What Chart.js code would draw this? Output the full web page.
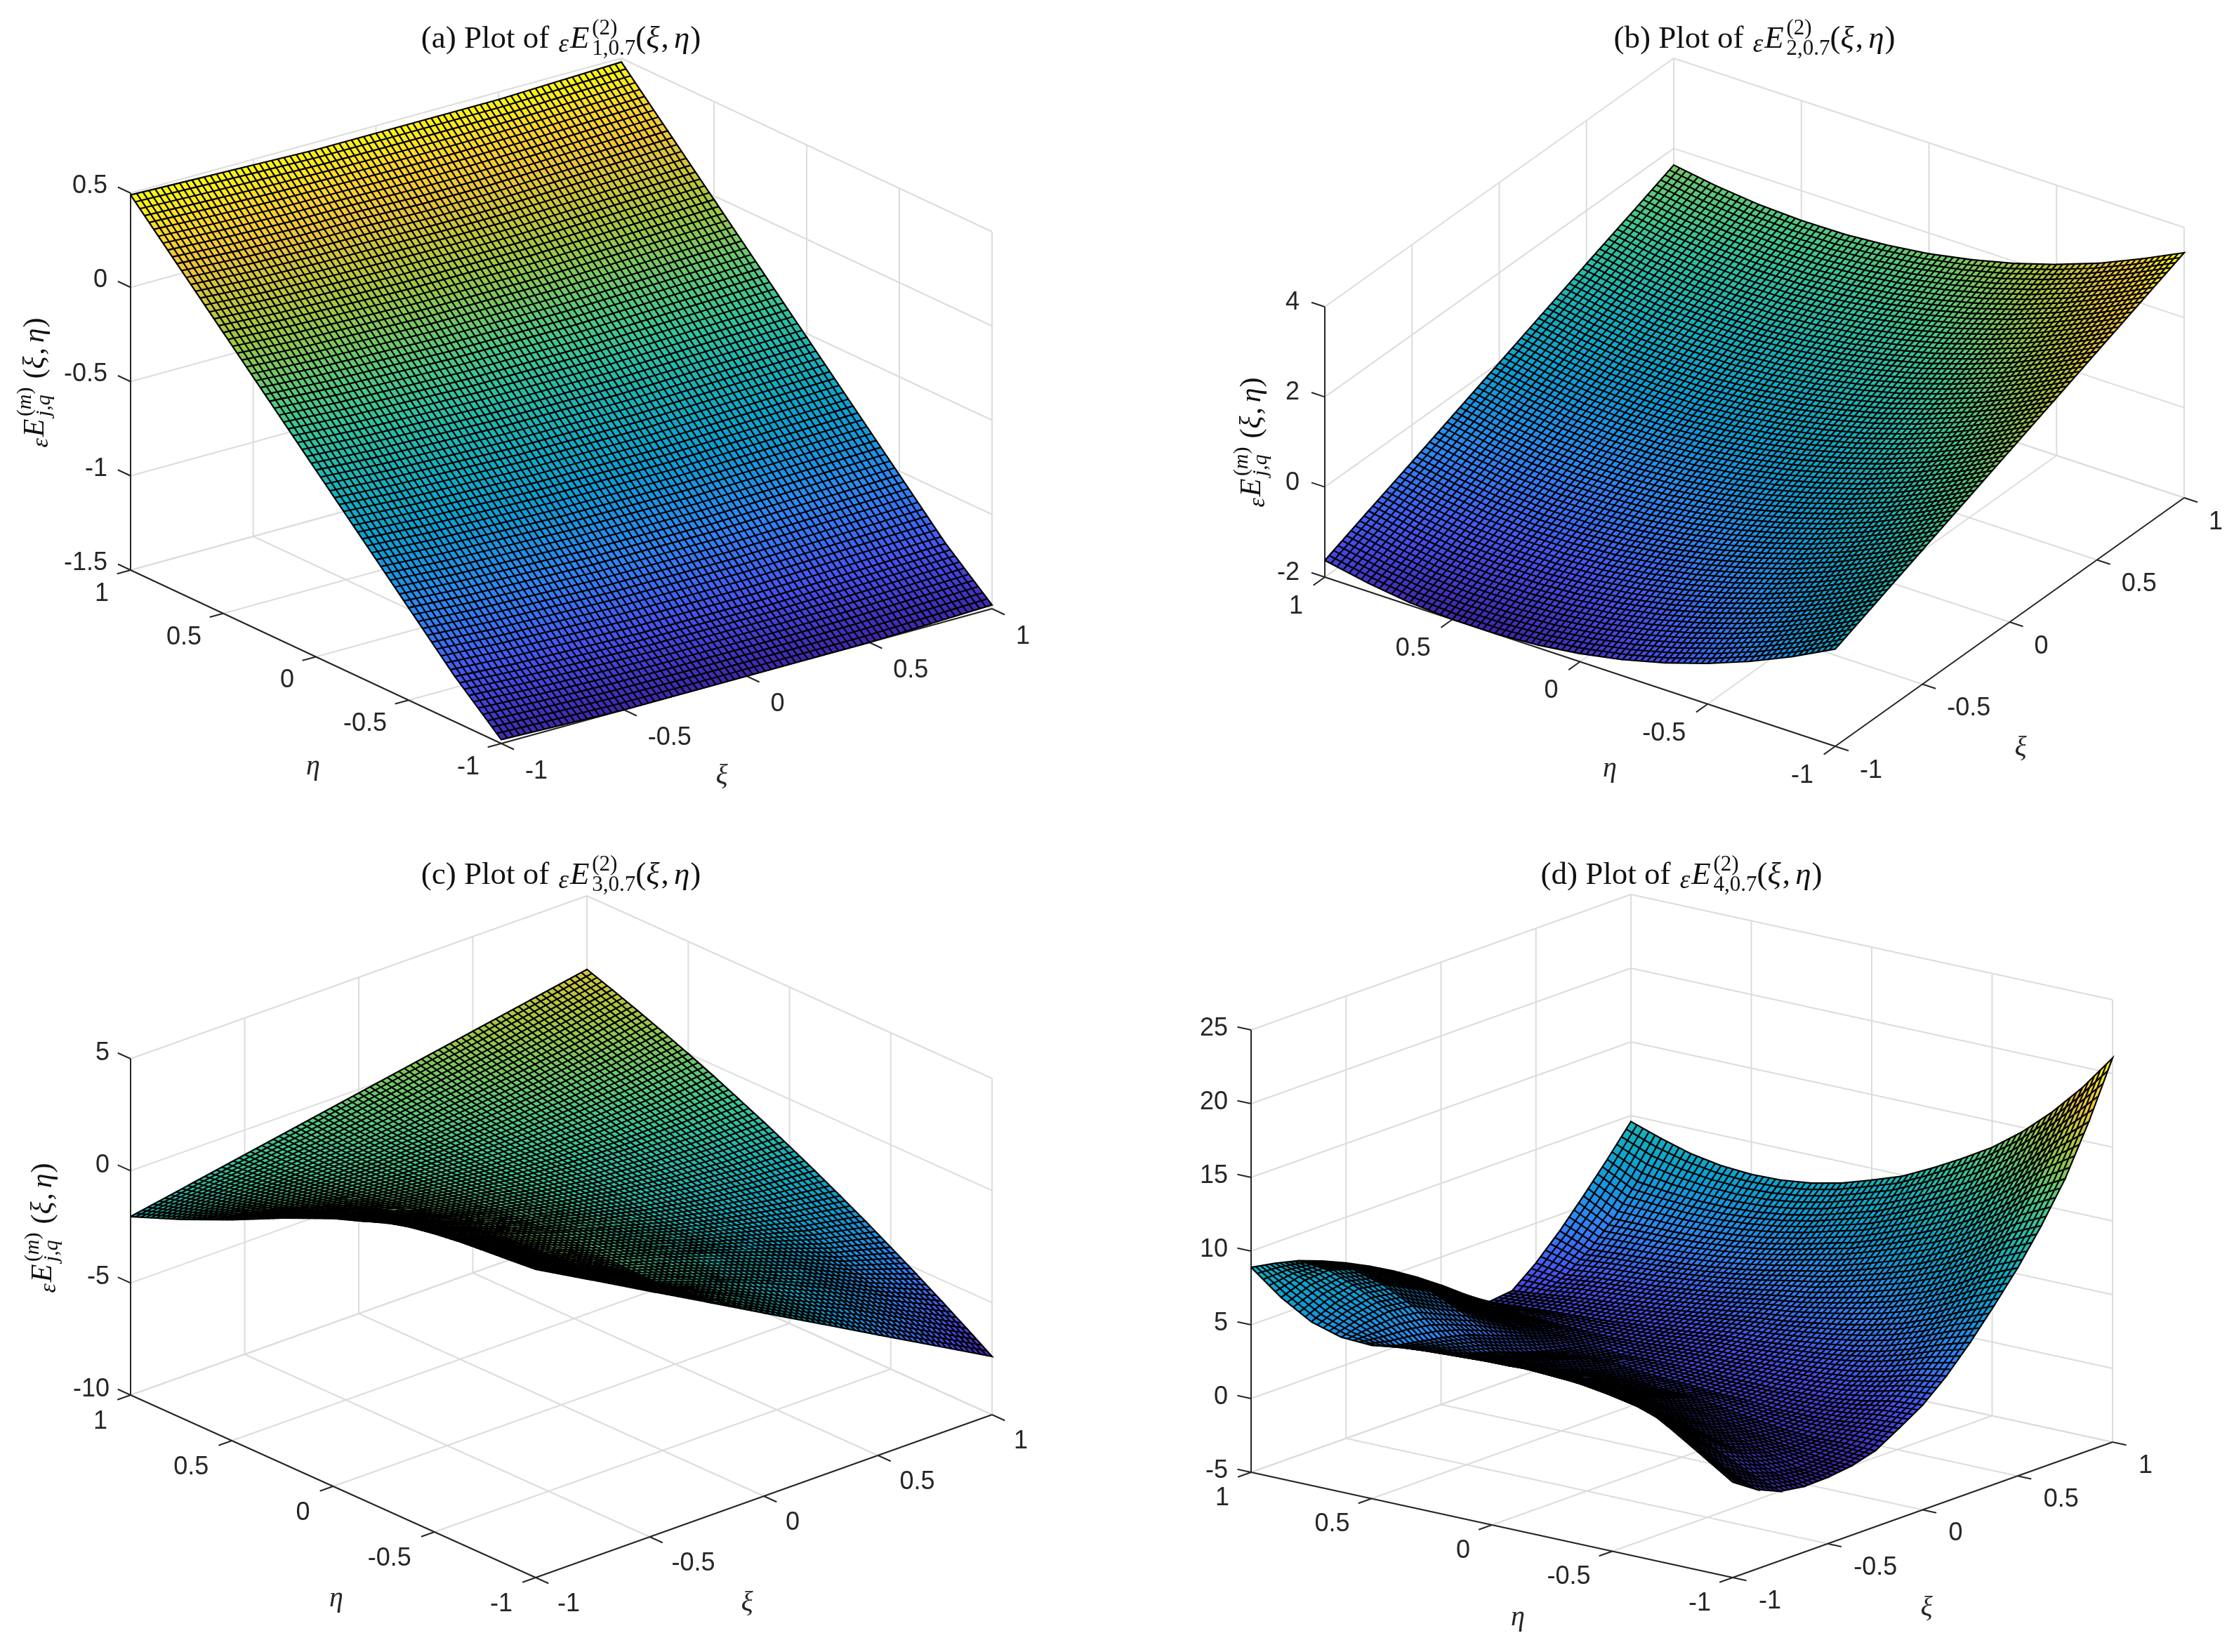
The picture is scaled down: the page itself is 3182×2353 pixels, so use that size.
<!DOCTYPE html>
<html>
<head>
<meta charset="utf-8">
<title>Surface plots</title>
<script src="https://cdn.jsdelivr.net/npm/chart.js@4"></script>
<style>
  html, body { margin: 0; padding: 0; background: #fff; }
  body { position: relative; width: 3182px; height: 2353px; overflow: hidden; }
  canvas { position: absolute; display: block; }
</style>
</head>
<body>
<script>
// Tick values, same on the two ground axes of every panel
const xiTicks = [-1, -0.5, 0, 0.5, 1];
const etaTicks = [-1, -0.5, 0, 0.5, 1];
const zTicksA = [-1.5, -1, -0.5, 0, 0.5];
const zTicksB = [-2, 0, 2, 4];
const zTicksC = [-10, -5, 0, 5];
const zTicksD = [-5, 0, 5, 10, 15, 20, 25];

// Surface heights. Rows run eta = 1 .. -1, columns xi = -1 .. 1
const valuesA = [
  [0.49, 0.48, 0.47, 0.46, 0.46, 0.46, 0.46, 0.47, 0.48],
  [0.24, 0.22, 0.21, 0.21, 0.20, 0.20, 0.21, 0.22, 0.23],
  [-0.01, -0.03, -0.04, -0.05, -0.05, -0.05, -0.04, -0.03, -0.02],
  [-0.26, -0.28, -0.29, -0.30, -0.30, -0.30, -0.29, -0.28, -0.27],
  [-0.51, -0.53, -0.54, -0.55, -0.55, -0.55, -0.54, -0.53, -0.52],
  [-0.76, -0.78, -0.79, -0.80, -0.80, -0.80, -0.79, -0.78, -0.77],
  [-1.01, -1.03, -1.04, -1.05, -1.05, -1.05, -1.04, -1.03, -1.02],
  [-1.26, -1.28, -1.29, -1.30, -1.30, -1.30, -1.29, -1.28, -1.27],
  [-1.48, -1.49, -1.50, -1.50, -1.50, -1.50, -1.50, -1.49, -1.48]
];
const valuesB = [
  [-1.63, -1.22, -0.82, -0.41, 0, 0.41, 0.82, 1.22, 1.63],
  [-1.81, -1.40, -0.99, -0.58, -0.17, 0.25, 0.66, 1.07, 1.48],
  [-1.94, -1.53, -1.11, -0.70, -0.28, 0.13, 0.55, 0.97, 1.38],
  [-2.00, -1.58, -1.17, -0.75, -0.33, 0.09, 0.51, 0.92, 1.34],
  [-2.00, -1.58, -1.16, -0.74, -0.33, 0.09, 0.51, 0.93, 1.35],
  [-1.94, -1.52, -1.10, -0.68, -0.26, 0.16, 0.58, 1.00, 1.42],
  [-1.82, -1.40, -0.98, -0.56, -0.14, 0.28, 0.70, 1.12, 1.54],
  [-1.64, -1.22, -0.80, -0.38, 0.04, 0.46, 0.88, 1.30, 1.72],
  [-1.40, -0.98, -0.56, -0.14, 0.28, 0.69, 1.11, 1.53, 1.95],
  [-1.10, -0.68, -0.27, 0.15, 0.57, 0.99, 1.41, 1.82, 2.24],
  [-0.74, -0.33, 0.09, 0.50, 0.92, 1.34, 1.75, 2.17, 2.58],
  [-0.32, 0.09, 0.51, 0.92, 1.34, 1.75, 2.17, 2.58, 2.99],
  [0.16, 0.57, 0.98, 1.39, 1.80, 2.21, 2.62, 3.03, 3.44]
];
const valuesC = [
  [-2.04, -1.57, -1.10, -0.63, -0.16, 0.31, 0.78, 1.25, 1.72],
  [-1.60, -1.34, -1.05, -0.73, -0.37, 0.01, 0.41, 0.86, 1.32],
  [-1.15, -1.08, -0.97, -0.79, -0.57, -0.28, 0.06, 0.45, 0.90],
  [-0.65, -0.78, -0.83, -0.80, -0.71, -0.53, -0.28, 0.05, 0.46],
  [-0.15, -0.46, -0.67, -0.79, -0.83, -0.76, -0.60, -0.35, 0],
  [0.40, -0.09, -0.46, -0.74, -0.91, -0.97, -0.91, -0.76, -0.49],
  [0.95, 0.30, -0.24, -0.66, -0.97, -1.15, -1.22, -1.17, -1.01],
  [1.45, 0.65, -0.04, -0.59, -1.03, -1.34, -1.53, -1.60, -1.54],
  [1.95, 1.00, 0.19, -0.51, -1.08, -1.52, -1.84, -2.03, -2.10],
  [2.35, 1.29, 0.35, -0.46, -1.10, -1.72, -2.17, -2.48, -2.68],
  [2.80, 1.50, 0.45, -0.40, -1.15, -1.89, -2.47, -2.94, -3.29],
  [3.10, 1.65, 0.50, -0.45, -1.20, -2.00, -2.72, -3.42, -3.91],
  [3.30, 1.80, 0.55, -0.50, -1.25, -2.08, -2.95, -3.90, -4.57],
  [3.45, 1.95, 0.62, -0.55, -1.35, -2.25, -3.20, -4.35, -5.24],
  [3.55, 2.14, 0.80, -0.55, -1.45, -2.45, -3.55, -4.80, -5.94],
  [3.65, 2.27, 0.92, -0.45, -1.60, -2.85, -4.00, -5.35, -6.66],
  [3.75, 2.36, 0.96, -0.43, -1.83, -3.22, -4.62, -6.01, -7.40]
];
const valuesD = [
  [8.9, 8.6, 8.2, 7.6, 6.9, 6.1, 5.2, 4.2, 3.1, 1.9, 0.8, 1.0, 2.3, 3.9, 5.7, 7.6, 9.6],
  [7.3, 7.9, 8.0, 7.5, 6.7, 5.8, 4.7, 3.5, 2.4, 1.5, 0.95, 1.2, 1.95, 3.1, 4.6, 6.55, 8.9],
  [6.1, 6.8, 7.2, 6.9, 6.1, 5.3, 4.2, 3.0, 2.1, 1.4, 1.08, 1.47, 2.19, 3.23, 4.6, 6.29, 8.3],
  [5.5, 5.9, 6.1, 5.9, 5.1, 4.4, 3.4, 2.5, 1.8, 1.3, 1.18, 1.63, 2.35, 3.34, 4.6, 6.14, 7.95],
  [5.4, 4.8, 4.5, 4.2, 3.8, 3.2, 2.6, 2.0, 1.5, 1.2, 1.3, 1.8, 2.52, 3.49, 4.69, 6.13, 7.8],
  [5.7, 4.9, 4.2, 3.6, 3.1, 2.5, 2.0, 1.6, 1.3, 1.16, 1.48, 2.0, 2.75, 3.7, 4.88, 6.26, 7.85],
  [5.9, 5.0, 4.2, 3.5, 2.9, 2.4, 1.9, 1.4, 1.07, 1.25, 1.64, 2.23, 3.0, 3.98, 5.16, 6.53, 8.1],
  [6.05, 5.1, 4.2, 3.4, 2.7, 2.1, 1.6, 1.2, 1.13, 1.39, 1.84, 2.48, 3.32, 4.34, 5.55, 6.95, 8.55],
  [6.1, 5.2, 4.3, 3.4, 2.6, 1.9, 1.4, 1.05, 1.16, 1.51, 2.04, 2.76, 3.67, 4.77, 6.06, 7.54, 9.2],
  [6.15, 5.1, 4.1, 3.2, 2.4, 1.7, 1.2, 0.95, 1.1, 1.53, 2.15, 2.97, 3.97, 5.17, 6.55, 8.13, 9.9],
  [6.1, 5.0, 3.9, 3.0, 2.2, 1.6, 1.1, 0.8, 1.08, 1.61, 2.34, 3.27, 4.4, 5.73, 7.25, 8.98, 10.9],
  [6.0, 4.7, 3.5, 2.5, 1.8, 1.2, 0.8, 0.75, 1.06, 1.7, 2.55, 3.61, 4.88, 6.35, 8.03, 9.91, 12.0],
  [5.9, 4.3, 3.0, 2.0, 1.3, 0.8, 0.5, 0.6, 1.11, 1.87, 2.84, 4.03, 5.44, 7.06, 8.89, 10.94, 13.2],
  [5.3, 3.6, 2.4, 1.4, 0.8, 0.4, 0.25, 0.6, 1.22, 2.12, 3.25, 4.59, 6.16, 7.96, 9.98, 12.2, 14.7],
  [4.1, 2.6, 1.5, 0.8, 0.3, 0.05, 0.14, 0.71, 1.51, 2.56, 3.85, 5.36, 7.12, 9.1, 11.34, 13.8, 16.5],
  [2.8, 1.4, 0.5, -0.05, -0.3, -0.2, 0.2, 0.96, 1.92, 3.13, 4.6, 6.3, 8.26, 10.47, 12.94, 15.64, 18.6],
  [1.47, 0.4, -0.3, -0.55, -0.5, -0.3, 0.15, 1.1, 2.1, 3.5, 5.2, 7.1, 9.1, 11.4, 14.0, 17.3, 21.05]
];

// Page layout of the panels: origin is the corner (xi=-1, eta=-1, zmin), the edge
// vectors span the whole box, so every panel is a plain orthographic projection.
const panels = [
  {
    letter: 'a', index: '1', values: valuesA, zTicks: zTicksA,
    rect: { x: 0, y: 0, w: 1591, h: 1176 },
    origin: [714, 1059], xiEdge: [699, -192], etaEdge: [-528, -247], zEdge: -537,
    zOff: [-33, -10], etaOff: [-31, 34], xiOff: [34, 40],
    title: [799, 68], etaName: [446, 1092], xiName: [1028, 1105], yName: [62, 545]
  },
  {
    letter: 'b', index: '2', values: valuesB, zTicks: zTicksB,
    rect: { x: 1591, y: 0, w: 1591, h: 1176 },
    origin: [2614, 1063], xiEdge: [497, -354], etaEdge: [-727, -241], zEdge: -385,
    zOff: [-36, -6], etaOff: [-31, 42], xiOff: [35, 35],
    title: [2499, 68], etaName: [2293, 1095], xiName: [2878, 1065], yName: [1795, 630]
  },
  {
    letter: 'c', index: '3', values: valuesC, zTicks: zTicksC,
    rect: { x: 0, y: 1176, w: 1591, h: 1177 },
    origin: [763, 2247], xiEdge: [650, -232], etaEdge: [-577, -260], zEdge: -479,
    zOff: [-30, -8], etaOff: [-33, 38], xiOff: [31, 38],
    title: [799, 1259], etaName: [479, 2277], xiName: [1064, 2283], yName: [73, 1749]
  },
  {
    letter: 'd', index: '4', values: valuesD, zTicks: zTicksD,
    rect: { x: 1591, y: 1176, w: 1591, h: 1177 },
    origin: [2468, 2247], xiEdge: [541, -193], etaEdge: [-686, -150], zEdge: -630,
    zOff: [-33, -2], etaOff: [-31, 37], xiOff: [37, 34],
    title: [2395, 1259], etaName: [2162, 2304], xiName: [2744, 2290], yName: [88, 1785]
  }
];

const parulaStops = [
  [0, 0.2422, 0.1504, 0.6603], [0.11, 0.2810, 0.3228, 0.9579], [0.23, 0.1786, 0.5289, 0.9682],
  [0.35, 0.0383, 0.6200, 0.8400], [0.45, 0.0689, 0.6948, 0.7394], [0.57, 0.2161, 0.7843, 0.5923],
  [0.75, 0.6720, 0.7793, 0.2227], [0.89, 0.9990, 0.7653, 0.2164], [1, 0.9763, 0.9831, 0.0538]
];
const MESH_LINES = 80;
const MESH_WIDTH = 2.2;
const GRID_COLOR = '#dcdcdc';
const AXIS_COLOR = '#262626';
const SERIF = '"Liberation Serif"';
const SANS = '"Liberation Sans"';

const parula = (t) => {
  const v = Math.min(1, Math.max(0, t));
  let k = 0;
  while (k < parulaStops.length - 2 && v > parulaStops[k + 1][0]) k++;
  const a = parulaStops[k], b = parulaStops[k + 1];
  const m = (v - a[0]) / (b[0] - a[0]);
  const ch = (n) => Math.round(255 * (a[n] + (b[n] - a[n]) * m));
  return `rgb(${ch(1)},${ch(2)},${ch(3)})`;
};

// Scale coordinates of a point of the 3D box
const project = (panel, xi, eta, z) => {
  const ticks = panel.zTicks;
  const zMin = ticks[0], zMax = ticks[ticks.length - 1];
  const f = (xi + 1) / 2, g = (eta + 1) / 2, h = (z - zMin) / (zMax - zMin);
  return {
    x: panel.origin[0] + f * panel.xiEdge[0] + g * panel.etaEdge[0],
    y: panel.origin[1] + f * panel.xiEdge[1] + g * panel.etaEdge[1] + h * panel.zEdge
  };
};

const gridPoint = (panel, r, c) => {
  const rows = panel.values.length, cols = panel.values[0].length;
  return project(panel, -1 + 2 * c / (cols - 1), 1 - 2 * r / (rows - 1), panel.values[r][c]);
};

// Colour of one face: a linear gradient along the steepest direction of its height
const cellFill = (chart, panel, r, c) => {
  const v = panel.values;
  const { x: sx, y: sy } = chart.scales;
  const px = (p) => ({ x: sx.getPixelForValue(p.x), y: sy.getPixelForValue(p.y) });
  const a = px(gridPoint(panel, r, c)), b = px(gridPoint(panel, r, c + 1));
  const d = px(gridPoint(panel, r + 1, c)), e = px(gridPoint(panel, r + 1, c + 1));
  const za = v[r][c], zb = v[r][c + 1], zd = v[r + 1][c], ze = v[r + 1][c + 1];
  const flat = v.flat();
  const lo = Math.min(...flat), hi = Math.max(...flat);
  const tone = (z) => parula((z - lo) / (hi - lo));
  const zc = (za + zb + zd + ze) / 4;
  const ux = (b.x - a.x + e.x - d.x) / 2, uy = (b.y - a.y + e.y - d.y) / 2;
  const wx = (d.x - a.x + e.x - b.x) / 2, wy = (d.y - a.y + e.y - b.y) / 2;
  const dzu = (zb - za + ze - zd) / 2, dzw = (zd - za + ze - zb) / 2;
  const det = ux * wy - uy * wx;
  // the scales have no size yet on the first pass of the options
  if (!Number.isFinite(det) || Math.abs(det) < 1) return tone(zc);
  const gx = (dzu * wy - dzw * uy) / det, gy = (ux * dzw - wx * dzu) / det;
  const n2 = gx * gx + gy * gy;
  if (n2 < 1e-12) return tone(zc);
  const s = (Math.max(za, zb, zd, ze) - Math.min(za, zb, zd, ze)) / 2 + 1e-6;
  const cx = (a.x + b.x + d.x + e.x) / 4, cy = (a.y + b.y + d.y + e.y) / 4;
  const grad = chart.ctx.createLinearGradient(cx - gx * s / n2, cy - gy * s / n2, cx + gx * s / n2, cy + gy * s / n2);
  grad.addColorStop(0, tone(zc - s));
  grad.addColorStop(0.5, tone(zc));
  grad.addColorStop(1, tone(zc + s));
  return grad;
};

// One closed dataset per face. Chart.js paints the last dataset first, so the faces
// nearest to the viewer (xi=-1, eta=-1) go first in the list.
const buildCells = (panel) => {
  const rows = panel.values.length, cols = panel.values[0].length;
  const datasets = [];
  for (let r = rows - 2; r >= 0; r--) {
    for (let c = 0; c < cols - 1; c++) {
      const a = gridPoint(panel, r, c), b = gridPoint(panel, r, c + 1);
      const e = gridPoint(panel, r + 1, c + 1), d = gridPoint(panel, r + 1, c);
      datasets.push({
        data: [a, b, e, d, a],
        fill: 'shape',
        tension: 0,
        pointRadius: 0,
        borderWidth: MESH_WIDTH,
        borderColor: '#000',
        backgroundColor: (ctx) => cellFill(ctx.chart, panel, r, c)
      });
    }
  }
  return datasets;
};

const strokeSegment = (ctx, a, b) => {
  ctx.beginPath();
  ctx.moveTo(a.x, a.y);
  ctx.lineTo(b.x, b.y);
  ctx.stroke();
};

// Runs of mixed text: each piece has its own font and baseline shift.
// stackStart/stackNext set a superscript over a subscript at the same pen position.
const pieceFont = (p) => `${p.italic ? 'italic ' : ''}${p.size}px ${SERIF}`;
const walkPieces = (ctx, pieces, startX, baseline) => {
  let pen = startX, mark = startX, far = startX;
  pieces.forEach((p) => {
    ctx.font = pieceFont(p);
    if (p.stackStart) mark = pen;
    if (p.stackNext) { far = pen; pen = mark; }
    if (baseline !== null) ctx.fillText(p.t, pen, baseline + (p.dy || 0));
    pen += ctx.measureText(p.t).width + (p.gap || 0);
    if (p.stackEnd) pen = Math.max(pen, far + (p.gap || 0));
  });
  return pen - startX;
};
const drawPieces = (ctx, pieces, x, y) => {
  const width = walkPieces(ctx, pieces, 0, null);
  walkPieces(ctx, pieces, x - width / 2, y);
};

const mathLabel = (size, small, sup, sub, gapAfter) => {
  const up = -size * 0.42, down = size * 0.22;
  return [
    { t: 'ε', size: Math.round(size * 0.82), italic: true, dy: size * 0.14, gap: 2 },
    { t: 'E', size: size, italic: true, gap: size * 0.08 },
    ...sup.map((p, i) => ({ ...p, size: small, dy: up, stackStart: i === 0 })),
    ...sub.map((p, i) => ({ ...p, size: small, dy: down, stackNext: i === 0, stackEnd: i === sub.length - 1, gap: i === sub.length - 1 ? gapAfter : 0 })),
    { t: '(', size: size },
    { t: 'ξ', size: size, italic: true, gap: 2 },
    { t: ',', size: size, gap: size * 0.16 },
    { t: 'η', size: size, italic: true, gap: 1 },
    { t: ')', size: size }
  ];
};

const panelPlugin = (panel) => ({
  id: 'surfaceBox',
  // Walls, floor and the three axes sit behind the surface
  beforeDatasetsDraw(chart) {
    const { ctx, scales: { x: sx, y: sy } } = chart;
    const at = (xi, eta, z) => {
      const p = project(panel, xi, eta, z);
      return { x: sx.getPixelForValue(p.x), y: sy.getPixelForValue(p.y) };
    };
    const ticks = panel.zTicks;
    const zMin = ticks[0], zMax = ticks[ticks.length - 1];
    ctx.save();
    ctx.strokeStyle = GRID_COLOR;
    ctx.lineWidth = 2;
    xiTicks.forEach((t) => {
      strokeSegment(ctx, at(t, -1, zMin), at(t, 1, zMin));
      strokeSegment(ctx, at(t, 1, zMin), at(t, 1, zMax));
    });
    etaTicks.forEach((t) => {
      strokeSegment(ctx, at(-1, t, zMin), at(1, t, zMin));
      strokeSegment(ctx, at(1, t, zMin), at(1, t, zMax));
    });
    ticks.forEach((t) => {
      strokeSegment(ctx, at(-1, 1, t), at(1, 1, t));
      strokeSegment(ctx, at(1, 1, t), at(1, -1, t));
    });

    ctx.strokeStyle = AXIS_COLOR;
    strokeSegment(ctx, at(-1, 1, zMin), at(-1, 1, zMax));
    strokeSegment(ctx, at(-1, 1, zMin), at(-1, -1, zMin));
    strokeSegment(ctx, at(-1, -1, zMin), at(1, -1, zMin));
    const unit = (v, len) => {
      const n = Math.hypot(v[0], v[1]);
      return [v[0] / n * len, v[1] / n * len];
    };
    const zTick = unit(panel.etaEdge, 20);
    const etaTick = unit(panel.xiEdge, -20);
    const xiTick = unit(panel.etaEdge, -20);
    const tickMark = (p, d) => strokeSegment(ctx, p, { x: p.x + d[0], y: p.y + d[1] });
    ticks.forEach((t) => tickMark(at(-1, 1, t), zTick));
    etaTicks.forEach((t) => tickMark(at(-1, t, zMin), etaTick));
    xiTicks.forEach((t) => tickMark(at(t, -1, zMin), xiTick));
    ctx.restore();
  },
  // Fine mesh of each face, painted with the face so nearer faces cover it
  afterDatasetDraw(chart, args) {
    const pts = chart.getDatasetMeta(args.index).data;
    const { ctx } = chart;
    const rows = panel.values.length, cols = panel.values[0].length;
    const subU = Math.round(MESH_LINES / (cols - 1));
    const subV = Math.round(MESH_LINES / (rows - 1));
    const [a, b, e, d] = pts;
    const mix = (p, q, m) => ({ x: p.x + (q.x - p.x) * m, y: p.y + (q.y - p.y) * m });
    ctx.save();
    ctx.strokeStyle = '#000';
    ctx.lineWidth = MESH_WIDTH;
    ctx.beginPath();
    for (let i = 1; i < subU; i++) {
      const p = mix(a, b, i / subU), q = mix(d, e, i / subU);
      ctx.moveTo(p.x, p.y);
      ctx.lineTo(q.x, q.y);
    }
    for (let j = 1; j < subV; j++) {
      const p = mix(a, d, j / subV), q = mix(b, e, j / subV);
      ctx.moveTo(p.x, p.y);
      ctx.lineTo(q.x, q.y);
    }
    ctx.stroke();
    ctx.restore();
  },
  afterDraw(chart) {
    const { ctx, scales: { x: sx, y: sy } } = chart;
    const page = (x, y) => [sx.getPixelForValue(x), sy.getPixelForValue(y)];
    const ticks = panel.zTicks;
    const zMin = ticks[0];
    ctx.save();
    ctx.textBaseline = 'middle';
    ctx.fillStyle = AXIS_COLOR;
    ctx.font = `36px ${SANS}`;
    ctx.textAlign = 'right';
    ticks.forEach((t) => {
      const p = project(panel, -1, 1, t);
      const [x, y] = page(p.x + panel.zOff[0], p.y + panel.zOff[1]);
      ctx.fillText(String(t), x, y);
    });
    etaTicks.forEach((t) => {
      const p = project(panel, -1, t, zMin);
      const [x, y] = page(p.x + panel.etaOff[0], p.y + panel.etaOff[1]);
      ctx.fillText(String(t), x, y);
    });
    ctx.textAlign = 'left';
    xiTicks.forEach((t) => {
      const p = project(panel, t, -1, zMin);
      const [x, y] = page(p.x + panel.xiOff[0], p.y + panel.xiOff[1]);
      ctx.fillText(String(t), x, y);
    });

    ctx.textAlign = 'center';
    ctx.font = `italic 40px ${SERIF}`;
    let q = page(panel.etaName[0], panel.etaName[1]);
    ctx.fillText('η', q[0], q[1]);
    q = page(panel.xiName[0], panel.xiName[1]);
    ctx.fillText('ξ', q[0], q[1]);

    // Title and rotated z label are built from pieces
    ctx.textAlign = 'left';
    ctx.textBaseline = 'alphabetic';
    ctx.fillStyle = '#111';
    q = page(panel.title[0], panel.title[1]);
    drawPieces(ctx, [
      { t: `(${panel.letter}) Plot of `, size: 45, gap: 2 },
      ...mathLabel(45, 31, [{ t: '(2)' }], [{ t: `${panel.index},0.7` }], 0)
    ], q[0], q[1]);

    q = page(panel.yName[0], panel.yName[1]);
    ctx.translate(q[0], q[1]);
    ctx.rotate(-Math.PI / 2);
    drawPieces(ctx, mathLabel(42, 30,
      [{ t: '(' }, { t: 'm', italic: true }, { t: ')' }],
      [{ t: 'j', italic: true }, { t: ',' }, { t: 'q', italic: true }], 12), 0, 0);
    ctx.restore();
  }
});

const charts = panels.map((panel) => {
  const canvas = document.createElement('canvas');
  const { x, y, w, h } = panel.rect;
  canvas.width = w;
  canvas.height = h;
  canvas.style.left = `${x}px`;
  canvas.style.top = `${y}px`;
  canvas.style.width = `${w}px`;
  canvas.style.height = `${h}px`;
  document.body.appendChild(canvas);
  return new Chart(canvas, {
    type: 'line',
    data: { datasets: buildCells(panel) },
    options: {
      responsive: false,
      animation: false,
      devicePixelRatio: 1,
      events: [],
      layout: { padding: 0 },
      plugins: {
        legend: { display: false },
        title: { display: false },
        tooltip: { enabled: false }
      },
      scales: {
        x: { type: 'linear', display: false, min: x, max: x + w },
        y: { type: 'linear', display: false, reverse: true, min: y, max: y + h }
      }
    },
    plugins: [panelPlugin(panel)]
  });
});
</script>
</body>
</html>
